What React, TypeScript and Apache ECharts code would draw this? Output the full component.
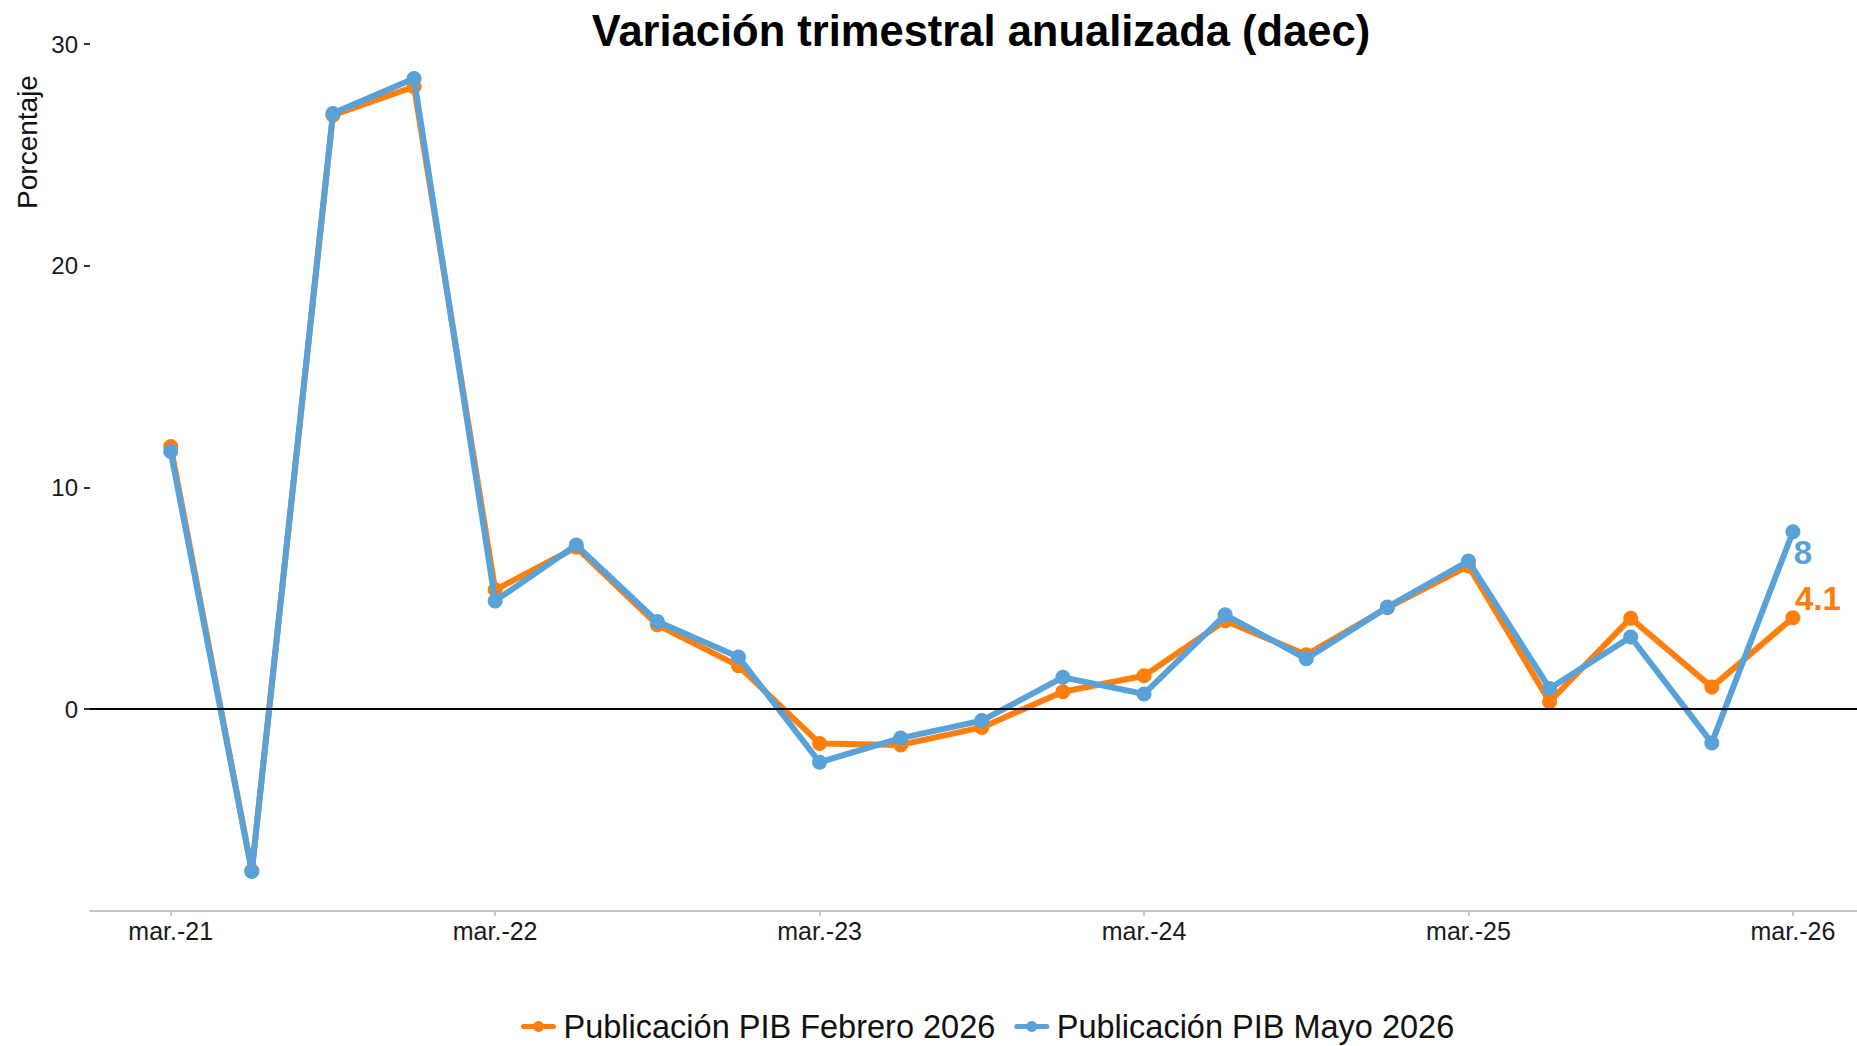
import React, { useEffect, useRef } from "react";
import * as echarts from "echarts";

const quarterIndex = [0, 1, 2, 3, 4, 5, 6, 7, 8, 9, 10, 11, 12, 13, 14, 15, 16, 17, 18, 19, 20];
const tickPositions = [0, 4, 8, 12, 16, 20];
const tickLabels = ["mar.-21", "mar.-22", "mar.-23", "mar.-24", "mar.-25", "mar.-26"];
const yTicks = [0, 10, 20, 30];

const febrero2026 = [11.85, -7.3, 26.8, 28.08, 5.38, 7.3, 3.8, 1.95, -1.55, -1.62, -0.83, 0.78, 1.5, 3.98, 2.45, 4.57, 6.46, 0.33, 4.1, 0.99, 4.12];
const mayo2026 = [11.62, -7.33, 26.88, 28.45, 4.88, 7.4, 3.95, 2.35, -2.4, -1.31, -0.52, 1.43, 0.68, 4.25, 2.27, 4.6, 6.68, 0.93, 3.25, -1.53, 8.0];

const seriesNames = ["Publicación PIB Febrero 2026", "Publicación PIB Mayo 2026"];
const colors = ["#FF7F0E", "#58A2D9"];

const FONT = "'Liberation Sans', Arial, Helvetica, sans-serif";

function buildData(values: number[], color: string, offset: [number, number]) {
  return values.map((v, i) => {
    if (i === values.length - 1) {
      return {
        value: [quarterIndex[i], v],
        label: {
          show: true,
          position: "inside",
          offset,
          align: "center",
          verticalAlign: "middle",
          formatter: () => String(Number(v.toFixed(1))),
          color,
          fontSize: 33,
          fontWeight: "bold",
          fontFamily: FONT,
        },
      };
    }
    return [quarterIndex[i], v];
  });
}

export default function App() {
  const ref = useRef<HTMLDivElement>(null);
  useEffect(() => {
    if (!ref.current) return;
    const chart = echarts.init(ref.current, undefined, { renderer: "svg" });
    chart.setOption({
      animation: false,
      backgroundColor: "#ffffff",
      textStyle: { fontFamily: FONT },
      grid: { left: 90, right: 0, top: 38.7, bottom: 135.3, containLabel: false },
      graphic: [
        {
          type: "text",
          x: 981,
          y: 31,
          style: {
            text: "Variación trimestral anualizada (daec)",
            fontSize: 43.5,
            fontWeight: "bold",
            fontFamily: FONT,
            fill: "#000",
            align: "center",
            verticalAlign: "middle",
          },
        },
        {
          type: "text",
          x: 27,
          y: 142,
          rotation: Math.PI / 2,
          style: {
            text: "Porcentaje",
            fontSize: 28,
            fontFamily: FONT,
            fill: "#111",
            align: "center",
            verticalAlign: "middle",
          },
        },
      ],
      legend: {
        left: 521,
        top: 1010,
        padding: 0,
        itemWidth: 30,
        itemHeight: 14,
        itemGap: 19,
        lineStyle: { width: 5 },
        textStyle: { fontSize: 32.5, lineHeight: 32, fontFamily: FONT, color: "#111", padding: [0, 0, 0, 5] },
        data: seriesNames,
      },
      xAxis: {
        type: "value",
        min: -0.995,
        max: 20.79,
        axisLine: { show: true, onZero: false, lineStyle: { color: "#C8C8C8", width: 2 } },
        axisTick: { show: true, customValues: tickPositions, length: 5, lineStyle: { color: "#C8C8C8", width: 2 } },
        axisLabel: {
          customValues: tickPositions,
          margin: 8,
          fontSize: 25,
          fontFamily: FONT,
          color: "#1a1a1a",
          formatter: (v: number) => tickLabels[tickPositions.indexOf(Math.round(v))] ?? "",
        },
        splitLine: { show: false },
      },
      yAxis: {
        type: "value",
        min: -9.1,
        max: 30.25,
        axisLine: { show: false, onZero: false },
        axisTick: { show: true, customValues: yTicks, length: 6, lineStyle: { color: "#333", width: 2 } },
        axisLabel: {
          customValues: yTicks,
          margin: 12,
          fontSize: 24,
          fontFamily: FONT,
          color: "#1a1a1a",
        },
        splitLine: { show: false },
      },
      series: [
        {
          type: "line",
          name: "zero",
          data: [],
          z: 1,
          silent: true,
          markLine: {
            silent: true,
            symbol: "none",
            label: { show: false },
            lineStyle: { color: "#000", width: 2, type: "solid" },
            data: [{ yAxis: 0 }],
          },
        },
        {
          type: "line",
          name: seriesNames[0],
          z: 3,
          data: buildData(febrero2026, colors[0], [25, -19]),
          color: colors[0],
          symbol: "circle",
          symbolSize: 15,
          lineStyle: { width: 6, color: colors[0], cap: "round", join: "round" },
          itemStyle: { color: colors[0] },
        },
        {
          type: "line",
          name: seriesNames[1],
          z: 4,
          data: buildData(mayo2026, colors[1], [10, 21]),
          color: colors[1],
          symbol: "circle",
          symbolSize: 15,
          lineStyle: { width: 6, color: colors[1], cap: "round", join: "round" },
          itemStyle: { color: colors[1] },
        },
      ],
    });
    return () => chart.dispose();
  }, []);
  return (
    <div
      ref={ref}
      style={{ position: "fixed", left: 0, top: 0, width: 1857, height: 1046, background: "#fff" }}
    />
  );
}
